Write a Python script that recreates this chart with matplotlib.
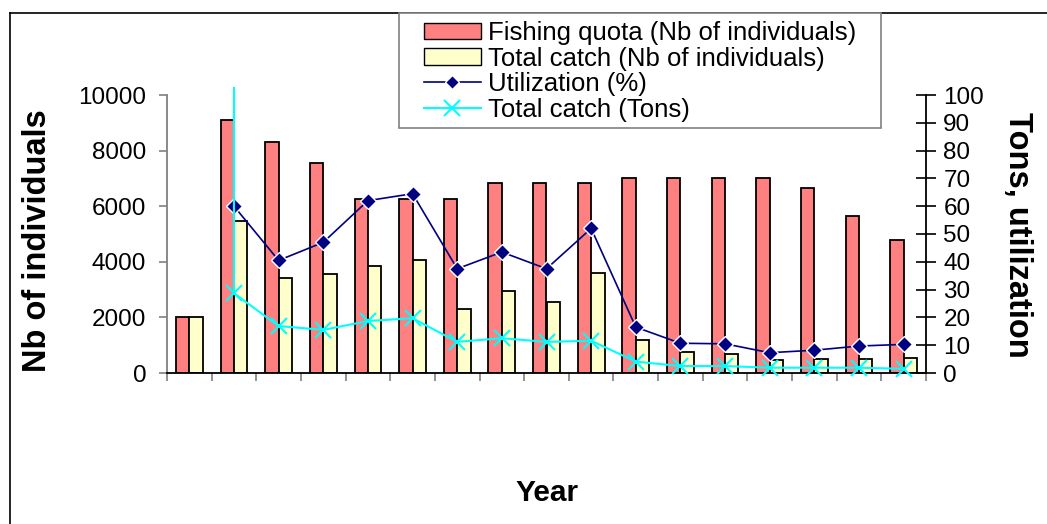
import matplotlib
matplotlib.use('Agg')
import matplotlib.pyplot as plt
from matplotlib.lines import Line2D
from matplotlib.patches import Rectangle
import numpy as np

plt.rcParams['font.family'] = ['Liberation Sans', 'DejaVu Sans']

# one entry per year (17 years, year labels not shown)
quota = [2000, 9100, 8300, 7550, 6250, 6250, 6250, 6850, 6850, 6850,
         7000, 7000, 7000, 7000, 6650, 5650, 4800]
catch_nb = [2000, 5450, 3400, 3550, 3850, 4050, 2300, 2950, 2550, 3600,
            1200, 750, 700, 450, 520, 520, 530]
# right-axis series start at year 2; first entry is the off-scale lead-in
utilization = [102.5, 60, 40.5, 47, 62, 64.5, 37.5, 43.5, 37.5, 52,
               16.5, 10.7, 10.5, 7.3, 8.2, 9.7, 10.3]
catch_tons = [102.5, 28.7, 16.9, 15.5, 18.7, 19.7, 11.2, 12.5, 11.2, 11.6,
              4.1, 2.5, 2.5, 1.9, 1.9, 1.9, 1.5]
line_x = [1] + list(range(1, 17))

n = len(quota)
x = np.arange(n)

fig = plt.figure(figsize=(10.47, 5.24), dpi=100)
fig.patch.set_facecolor('white')

# chart border (left and top edges visible)
fig.add_artist(Line2D([10/1047, 10/1047], [0, 1-13/524], transform=fig.transFigure,
                      color='black', lw=1.2))
fig.add_artist(Line2D([10/1047, 1], [1-13/524, 1-13/524], transform=fig.transFigure,
                      color='black', lw=1.2))

ax = fig.add_axes([167/1047, 1-373/524, 759/1047, 278/524])
ax2 = ax.twinx()
ax.set_zorder(1); ax2.set_zorder(2); ax2.patch.set_visible(False)

w = 0.30
ax.bar(x - w/2, quota, w, color='#FF8080', edgecolor='black', linewidth=1.3, zorder=2)
ax.bar(x + w/2, catch_nb, w, color='#FFFFCC', edgecolor='black', linewidth=1.3, zorder=2)

ax2.plot(line_x, utilization, color='#000080', lw=1.2, marker='D', ms=8,
         markerfacecolor='#000080', markeredgecolor='white', markeredgewidth=1.0,
         markevery=list(range(1, 17)), clip_on=False, zorder=3)
ax2.plot(line_x, catch_tons, color='#00FFFF', lw=1.5, marker='x', ms=11,
         markeredgewidth=1.5, markevery=list(range(1, 17)), clip_on=False, zorder=4)

ax.set_xlim(-0.5, n - 0.5)
ax.set_ylim(0, 10000)
ax2.set_ylim(0, 100)
ax.set_yticks(np.arange(0, 10001, 2000))
ax2.set_yticks(np.arange(0, 101, 10))
ax.set_xticks(np.arange(-0.5, n, 1))
ax.set_xticklabels([])

for side in ('top', 'right'):
    ax.spines[side].set_visible(False)
for side in ('top', 'left', 'bottom'):
    ax2.spines[side].set_visible(False)
ax.spines['left'].set_color('#808080')
ax.spines['left'].set_linewidth(1.3)
ax.spines['bottom'].set_color('black')
ax.spines['bottom'].set_linewidth(1.3)
ax2.spines['right'].set_color('black')
ax2.spines['right'].set_linewidth(1.3)

ax.tick_params(axis='y', direction='out', length=6, width=1.2, color='#808080',
               labelsize=17.5, pad=9)
ax.tick_params(axis='x', direction='out', length=6, width=1.2, color='#808080')
ax2.tick_params(axis='y', direction='inout', length=15, width=1.2, color='black',
                labelsize=17.5, pad=5)

fig.text(38/1047, 1-241/524, 'Nb of individuals', rotation=90, fontsize=23.5,
         fontweight='bold', ha='center', va='center')
fig.text(1018/1047, 1-235/524, 'Tons, utilization', rotation=-90, fontsize=23.5,
         fontweight='bold', ha='center', va='center')
fig.text(547/1047, 1-493/524, 'Year', fontsize=21.5, fontweight='bold',
         ha='center', va='center')

# legend: white box drawn separately, entries placed on top of it
fig.add_artist(Rectangle((399/1047, 1-128/524), 482/1047, 115/524,
                         transform=fig.transFigure, facecolor='white',
                         edgecolor='#808080', linewidth=1.2, zorder=5))
handles = [
    Rectangle((0, 0), 1, 1, facecolor='#FF8080', edgecolor='black', linewidth=1.0),
    Rectangle((0, 0), 1, 1, facecolor='#FFFFCC', edgecolor='black', linewidth=1.0),
    Line2D([], [], color='#000080', lw=1.2, marker='D', ms=7,
           markerfacecolor='#000080', markeredgecolor='white'),
    Line2D([], [], color='#00FFFF', lw=1.5, marker='x', ms=11, markeredgewidth=1.5),
]
labels = ['Fishing quota (Nb of individuals)', 'Total catch (Nb of individuals)',
          'Utilization (%)', 'Total catch (Tons)']
leg = fig.legend(handles, labels, loc='upper left',
                 bbox_to_anchor=(424/1047, 1-21/524), fontsize=18.5,
                 frameon=False, borderpad=0.0, labelspacing=0.06,
                 handlelength=2.2, handleheight=0.6, handletextpad=0.3,
                 borderaxespad=0)
leg.set_zorder(6)

fig.savefig('out.png', dpi=100, facecolor='white')
